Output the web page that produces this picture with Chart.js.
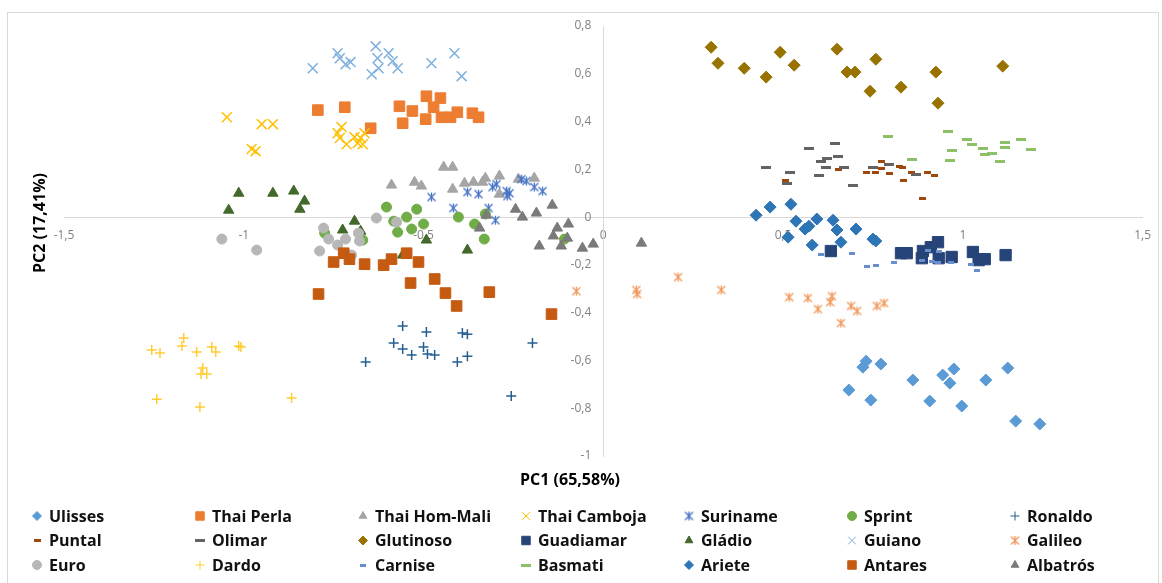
<!DOCTYPE html>
<html>
<head>
<meta charset="utf-8">
<script src="https://cdn.jsdelivr.net/npm/chart.js@4.4.1/dist/chart.umd.min.js"></script>
<style>
    html, body { margin: 0; padding: 0; background: #fff; }
    #wrap { position: relative; width: 1162px; height: 583px; }
</style>
</head>
<body>
<div id="wrap"><canvas id="pca" width="1162" height="583"></canvas></div>
<script>
// PCA scores per rice variety: [PC1, PC2]
const ulisses = [[0.731,-0.603],[0.722,-0.628],[0.772,-0.615],[0.861,-0.682],[0.944,-0.661],[0.975,-0.636],[0.964,-0.695],[1.064,-0.682],[1.125,-0.632],[0.683,-0.724],[0.744,-0.766],[0.908,-0.770],[0.997,-0.791],[1.147,-0.854],[1.214,-0.866]];
const thaiPerla = [[-0.794,0.448],[-0.719,0.460],[-0.647,0.372],[-0.567,0.464],[-0.531,0.444],[-0.558,0.393],[-0.492,0.506],[-0.453,0.498],[-0.472,0.460],[-0.494,0.410],[-0.450,0.418],[-0.425,0.418],[-0.406,0.439],[-0.364,0.435],[-0.347,0.418]];
const thaiHomMali = [[-0.589,0.134],[-0.525,0.146],[-0.506,0.130],[-0.444,0.209],[-0.419,0.209],[-0.419,0.117],[-0.386,0.142],[-0.361,0.146],[-0.336,0.146],[-0.328,0.163],[-0.289,0.172],[-0.236,0.159],[-0.192,0.163],[-0.289,0.096]];
const thaiCamboja = [[-1.047,0.418],[-0.950,0.389],[-0.919,0.389],[-0.978,0.285],[-0.967,0.276],[-0.728,0.377],[-0.739,0.351],[-0.733,0.331],[-0.714,0.305],[-0.692,0.335],[-0.683,0.310],[-0.669,0.305],[-0.664,0.351],[-0.675,0.331]];
const suriname = [[-0.478,0.084],[-0.417,0.038],[-0.378,0.105],[-0.347,0.096],[-0.319,0.038],[-0.300,-0.013],[-0.308,0.126],[-0.297,0.138],[-0.269,0.109],[-0.267,0.088],[-0.261,0.100],[-0.228,0.159],[-0.214,0.151],[-0.192,0.126],[-0.169,0.109]];
const sprint = [[-0.603,0.042],[-0.583,-0.017],[-0.572,-0.063],[-0.547,0.000],[-0.519,0.033],[-0.533,-0.050],[-0.500,-0.029],[-0.403,0.000],[-0.358,-0.029],[-0.328,0.013],[-0.331,-0.092],[-0.108,-0.092],[-0.775,-0.067],[-0.669,-0.096]];
const ronaldo = [[-0.558,-0.456],[-0.492,-0.481],[-0.583,-0.527],[-0.558,-0.552],[-0.533,-0.577],[-0.500,-0.544],[-0.489,-0.573],[-0.469,-0.577],[-0.392,-0.485],[-0.378,-0.490],[-0.406,-0.607],[-0.378,-0.582],[-0.661,-0.607],[-0.197,-0.527],[-0.256,-0.749]];
const puntal = [[0.506,0.155],[0.653,0.201],[0.733,0.188],[0.756,0.188],[0.775,0.234],[0.775,0.205],[0.797,0.184],[0.825,0.213],[0.831,0.209],[0.836,0.155],[0.858,0.188],[0.903,0.188],[0.922,0.176],[0.889,0.079]];
const olimar = [[0.453,0.209],[0.519,0.188],[0.511,0.142],[0.572,0.289],[0.644,0.310],[0.606,0.234],[0.622,0.247],[0.653,0.255],[0.619,0.209],[0.669,0.209],[0.600,0.176],[0.694,0.134],[0.750,0.209],[0.794,0.222],[0.869,0.180]];
const glutinoso = [[0.300,0.711],[0.319,0.644],[0.392,0.623],[0.453,0.586],[0.492,0.690],[0.531,0.636],[0.650,0.703],[0.678,0.607],[0.700,0.607],[0.758,0.661],[0.742,0.527],[0.828,0.544],[0.925,0.607],[0.931,0.477],[1.111,0.632]];
const guadiamar = [[0.633,-0.142],[0.828,-0.151],[0.844,-0.151],[0.889,-0.142],[0.911,-0.126],[0.931,-0.105],[0.886,-0.172],[0.933,-0.172],[0.969,-0.167],[1.028,-0.146],[1.044,-0.180],[1.061,-0.176],[1.119,-0.159]];
const gladio = [[-1.042,0.029],[-1.014,0.100],[-0.919,0.100],[-0.861,0.109],[-0.831,0.067],[-0.844,0.033],[-0.692,-0.017],[-0.725,-0.054],[-0.675,-0.059],[-0.492,-0.096],[-0.378,-0.138],[-0.558,-0.159]];
const guiano = [[-0.808,0.623],[-0.739,0.686],[-0.733,0.665],[-0.717,0.640],[-0.703,0.649],[-0.633,0.715],[-0.628,0.665],[-0.644,0.598],[-0.625,0.623],[-0.597,0.686],[-0.586,0.653],[-0.572,0.623],[-0.478,0.644],[-0.414,0.686],[-0.394,0.590]];
const galileo = [[-0.075,-0.310],[0.092,-0.305],[0.094,-0.322],[0.208,-0.251],[0.328,-0.305],[0.517,-0.335],[0.569,-0.339],[0.597,-0.385],[0.631,-0.356],[0.636,-0.331],[0.661,-0.444],[0.689,-0.372],[0.706,-0.393],[0.761,-0.372],[0.781,-0.360]];
const euro = [[-1.061,-0.092],[-0.964,-0.138],[-0.778,-0.046],[-0.764,-0.092],[-0.717,-0.092],[-0.739,-0.117],[-0.681,-0.067],[-0.678,-0.100],[-0.631,-0.004],[-0.575,-0.021],[-0.789,-0.142],[-0.700,-0.159]];
const dardo = [[-1.256,-0.556],[-1.233,-0.569],[-1.167,-0.506],[-1.172,-0.540],[-1.131,-0.565],[-1.089,-0.544],[-1.078,-0.565],[-1.014,-0.540],[-1.008,-0.544],[-1.114,-0.632],[-1.119,-0.657],[-1.103,-0.657],[-1.242,-0.762],[-1.122,-0.795],[-0.867,-0.757]];
const carnise = [[0.606,-0.155],[0.692,-0.151],[0.733,-0.205],[0.758,-0.201],[0.808,-0.188],[0.886,-0.180],[0.903,-0.138],[0.914,-0.184],[0.933,-0.142],[0.931,-0.192],[0.967,-0.192],[1.022,-0.197],[1.039,-0.222]];
const basmati = [[0.792,0.339],[0.858,0.243],[0.958,0.360],[0.969,0.280],[0.964,0.238],[1.011,0.326],[1.025,0.305],[1.056,0.289],[1.061,0.264],[1.081,0.268],[1.103,0.234],[1.117,0.314],[1.117,0.293],[1.161,0.326],[1.189,0.285]];
const ariete = [[0.425,0.008],[0.464,0.042],[0.522,0.054],[0.536,-0.017],[0.561,-0.050],[0.572,-0.038],[0.594,-0.008],[0.639,-0.013],[0.650,-0.054],[0.661,-0.105],[0.581,-0.117],[0.703,-0.050],[0.514,-0.084],[0.750,-0.092],[0.758,-0.100]];
const antares = [[-0.792,-0.322],[-0.750,-0.188],[-0.722,-0.151],[-0.706,-0.176],[-0.664,-0.197],[-0.611,-0.201],[-0.589,-0.176],[-0.547,-0.151],[-0.514,-0.188],[-0.536,-0.276],[-0.469,-0.259],[-0.439,-0.318],[-0.408,-0.372],[-0.317,-0.314],[-0.144,-0.406]];
const albatros = [[-0.325,0.008],[-0.344,-0.046],[-0.244,0.033],[-0.225,0.000],[-0.186,0.017],[-0.142,0.050],[-0.178,-0.121],[-0.139,-0.079],[-0.128,-0.046],[-0.097,-0.029],[-0.100,-0.088],[-0.117,-0.121],[-0.058,-0.130],[-0.028,-0.113],[0.106,-0.109]];

const varieties = ['Ulisses', 'Thai Perla', 'Thai Hom-Mali', 'Thai Camboja', 'Suriname', 'Sprint', 'Ronaldo',
    'Puntal', 'Olimar', 'Glutinoso', 'Guadiamar', 'Gládio', 'Guiano', 'Galileo',
    'Euro', 'Dardo', 'Carnise', 'Basmati', 'Ariete', 'Antares', 'Albatrós'];
const scores = [ulisses, thaiPerla, thaiHomMali, thaiCamboja, suriname, sprint, ronaldo,
    puntal, olimar, glutinoso, guadiamar, gladio, guiano, galileo,
    euro, dardo, carnise, basmati, ariete, antares, albatros];

const pc1Range = [-1.5, 1.5];
const pc2Range = [-1, 0.8];
const axisTitles = ['PC1 (65,58%)', 'PC2 (17,41%)'];

// small canvases used as point styles (dashes and the excel "star")
function dashImage(w, h, color) {
    const c = document.createElement('canvas');
    c.width = w; c.height = h;
    const g = c.getContext('2d');
    g.fillStyle = color;
    g.fillRect(0, 0, w, h);
    return c;
}
function starImage(size, color) {
    const c = document.createElement('canvas');
    c.width = size; c.height = size;
    const g = c.getContext('2d');
    const m = size / 2, a = 1.5, b = size - 1.5;
    g.strokeStyle = color;
    g.lineWidth = 1.3;
    g.beginPath();
    g.moveTo(a, a); g.lineTo(b, b);
    g.moveTo(b, a); g.lineTo(a, b);
    g.moveTo(m, 1); g.lineTo(m, size - 1);
    g.stroke();
    return c;
}

const looks = [
    {color: '#5B9BD5', style: 'rectRot', r: 6},
    {color: '#ED7D31', style: 'rect', r: 7.5},
    {color: '#A5A5A5', style: 'triangle', r: 6},
    {color: '#FFC000', style: 'crossRot', r: 7, line: 1.5},
    {color: '#4472C4', style: starImage(11, '#4472C4')},
    {color: '#70AD47', style: 'circle', r: 5},
    {color: '#255E91', style: 'cross', r: 5, line: 1.5},
    {color: '#9E480E', style: dashImage(7, 3, '#9E480E')},
    {color: '#636363', style: dashImage(10, 3, '#636363')},
    {color: '#997300', style: 'rectRot', r: 6},
    {color: '#264478', style: 'rect', r: 8},
    {color: '#43682B', style: 'triangle', r: 6},
    {color: '#7CAFDD', style: 'crossRot', r: 7, line: 1.5},
    {color: '#F1975A', style: starImage(11, '#F1975A')},
    {color: '#B7B7B7', style: 'circle', r: 5},
    {color: '#FFCD33', style: 'cross', r: 5, line: 1.5},
    {color: '#698ED0', style: dashImage(6, 3, '#698ED0')},
    {color: '#8CC168', style: dashImage(10, 3, '#8CC168')},
    {color: '#2E75B6', style: 'rectRot', r: 6},
    {color: '#C55A11', style: 'rect', r: 7.5},
    {color: '#7B7B7B', style: 'triangle', r: 6}
];

const datasets = varieties.map(function(name, i) {
    const lk = looks[i];
    return {
        label: name,
        data: scores[i].map(p => ({x: p[0], y: p[1]})),
        pointStyle: lk.style,
        pointRadius: lk.r || 5,
        pointBackgroundColor: lk.color,
        pointBorderColor: lk.color,
        pointBorderWidth: lk.line || 1,
        order: varieties.length - i   // later series on top, like excel
    };
});

function fmt(v) {
    const r = Math.round(v * 10) / 10;
    return String(r).replace('.', ',');
}

const FONT = '"Open Sans", "Liberation Sans", sans-serif';

// frame, axis titles and the 7-column legend
const decorations = {
    id: 'decorations',
    beforeDraw(chart) {
        const g = chart.ctx;
        g.save();
        g.fillStyle = '#fff';
        g.fillRect(0, 0, chart.width, chart.height);
        g.strokeStyle = '#D9D9D9';
        g.lineWidth = 1;
        g.strokeRect(7.5, 12.5, 1151, 600);
        g.restore();
    },
    afterDraw(chart) {
        const g = chart.ctx;
        g.save();
        g.fillStyle = '#000';
        g.font = 'bold 16px ' + FONT;
        g.textAlign = 'center';
        g.textBaseline = 'middle';
        g.fillText(axisTitles[0], 570, 480);
        g.translate(40, 223);
        g.rotate(-Math.PI / 2);
        g.fillText(axisTitles[1], 0, 0);
        g.restore();

        g.save();
        g.font = 'bold 16px ' + FONT;
        g.textBaseline = 'middle';
        g.textAlign = 'left';
        varieties.forEach(function(name, i) {
            const col = i % 7, row = Math.floor(i / 7);
            const x = 37 + 163 * col, y = 516 + 24.5 * row;
            const lk = looks[i];
            g.fillStyle = lk.color;
            g.strokeStyle = lk.color;
            if (typeof lk.style === 'string') {
                Chart.helpers.drawPoint(g, {
                    pointStyle: lk.style,
                    radius: lk.style === 'rect' ? 6 : (lk.style === 'crossRot' ? 5.5 : 4.5),
                    borderWidth: lk.line || 1,
                    rotation: 0
                }, x, y);
            } else {
                g.drawImage(lk.style, x - lk.style.width / 2, y - lk.style.height / 2);
            }
            g.fillStyle = '#111';
            g.fillText(name, x + 12, y + 1);
        });
        g.restore();
    }
};

const ctx = document.getElementById('pca');
const pcaChart = new Chart(ctx, {
    type: 'scatter',
    data: {datasets: datasets},
    options: {
        responsive: false,
        animation: false,
        events: [],
        layout: {padding: {left: 64, right: 18, top: 26, bottom: 127}},
        plugins: {
            legend: {display: false},
            tooltip: {enabled: false}
        },
        scales: {
            x: {
                type: 'linear',
                position: {y: 0},
                min: pc1Range[0],
                max: pc1Range[1],
                grid: {display: false, drawTicks: false},
                border: {display: true, color: '#D9D9D9', width: 1},
                ticks: {
                    stepSize: 0.5,
                    autoSkip: false,
                    maxRotation: 0,
                    padding: 11,
                    color: '#808080',
                    font: {family: FONT, size: 12},
                    callback: v => fmt(v)
                }
            },
            y: {
                type: 'linear',
                position: {x: 0},
                min: pc2Range[0],
                max: pc2Range[1],
                grid: {display: false, drawTicks: false},
                border: {display: true, color: '#D9D9D9', width: 1},
                ticks: {
                    stepSize: 0.2,
                    autoSkip: false,
                    padding: 11,
                    color: '#808080',
                    font: {family: FONT, size: 12},
                    callback: v => fmt(v) + '\u2002\u2002'
                }
            }
        }
    },
    plugins: [decorations]
});
</script>
</body>
</html>
